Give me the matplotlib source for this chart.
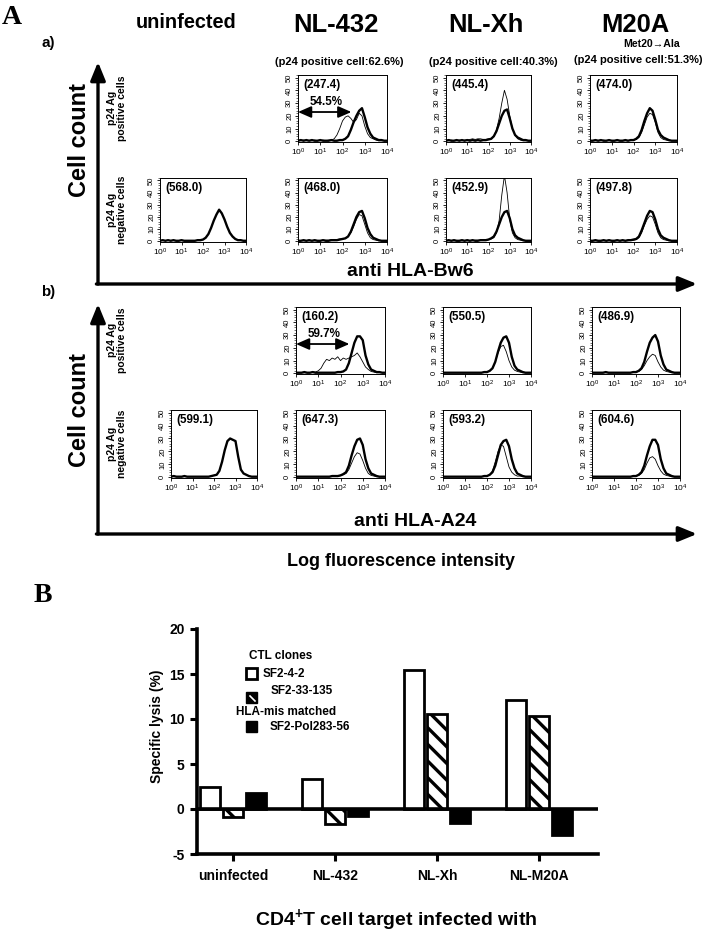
import numpy as np
import matplotlib
matplotlib.use("Agg")
import matplotlib.pyplot as plt
from matplotlib import font_manager as fm
from matplotlib.patches import Rectangle
from matplotlib.ticker import LogLocator, MultipleLocator, NullFormatter

plt.rcParams['font.family'] = ['Liberation Sans', 'DejaVu Sans']
plt.rcParams['mathtext.fontset'] = 'custom'
plt.rcParams['mathtext.rm'] = 'Liberation Sans'
plt.rcParams['mathtext.bf'] = 'Liberation Sans:bold'
plt.rcParams['mathtext.it'] = 'Liberation Sans:italic'
plt.rcParams['hatch.linewidth'] = 2.4

names = {f.name for f in fm.fontManager.ttflist}
if 'Liberation Sans Narrow' in names:
    NARROW, NS = 'Liberation Sans Narrow', 1.0
else:
    NARROW, NS = 'Liberation Sans', 0.84

# ---- FACS histograms: cell count per 1/8 decade, log10 bin positions ----
decades = np.arange(0, 4.001, 0.125)

bw6_pos_nl432_thick = [0.5,1,0.5,1,0.5,1,0.5,0.5,1,0.5,0.5,0.5,1,0.5,0.5,1,1,2,4,9,15,20,24,26,19,11,6,3,2,1,1,0.5,0.5]
bw6_pos_nl432_thin = [0.5,0.5,1,0.5,0.5,0.5,1,0.5,0.5,1,0.5,1,1,2,5,10,16,19,20,18,15,17,22,20,12,6,3,2,1,0.5,0.5,0.5,0.5]
bw6_pos_nlxh_thick = [0.5,1,0.5,0.5,1,0.5,1,0.5,1,0.5,1,0.5,1,0.5,1,1,1.5,2,4,8,14,20,24,25,18,10,5,3,2,1,1,0.5,0.5]
bw6_pos_nlxh_thin = [0.5,0.5,1,0.5,0.5,1,0.5,1,1,1.5,2,1.5,2,2,1.5,1.5,2,2,4,9,18,30,40,33,20,10,5,2,1,0.5,0.5,0.5,0.5]
bw6_pos_m20a_thick = [0.5,0.5,1,0.5,1,0.5,0.5,1,0.5,0.5,1,0.5,0.5,1,0.5,1,1,2,4,9,16,22,26,24,17,9,5,3,2,1,0.5,0.5,0.5]
bw6_pos_m20a_thin = [0.5,0.5,0.5,0.5,0.5,1,0.5,0.5,0.5,0.5,0.5,0.5,0.5,0.5,0.5,1,1,1.5,3,7,13,19,22,21,15,7,3,1.5,1,0.5,0.5,0.5,0.5]

bw6_neg_uninf_thick = [0.5,1,0.5,1,0.5,1,0.5,0.5,1,0.5,0.5,0.5,0.5,0.5,1,1,1.5,3,6,11,17,22,26,23,18,12,7,4,2,1,1,0.5,0.5]
bw6_neg_nl432_thick = [0.5,0.5,1,0.5,1,0.5,1,0.5,0.5,1,0.5,0.5,1,1,1,1.5,2,2.5,4,8,14,20,24,25,19,11,6,3,2,1,0.5,0.5,0.5]
bw6_neg_nl432_thin = [0.5,0.5,0.5,0.5,0.5,0.5,0.5,0.5,0.5,1,1,1,1.5,1.5,1.5,2,2,2.5,4,7,12,18,22,21,14,7,3,1.5,1,0.5,0.5,0.5,0.5]
bw6_neg_nlxh_thick = [0.5,1,0.5,1,0.5,0.5,1,0.5,1,0.5,1,0.5,0.5,1,1,1,1.5,2.5,4,8,14,20,24,25,19,10,5,3,2,1,0.5,0.5,0.5]
bw6_neg_nlxh_thin = [0.5,0.5,0.5,0.5,0.5,0.5,0.5,0.5,0.5,0.5,0.5,1,1,1,1,1.5,1.5,2,3,7,17,38,54,40,18,7,3,1.5,1,0.5,0.5,0.5,0.5]
bw6_neg_m20a_thick = [0.5,0.5,1,0.5,0.5,1,0.5,1,0.5,0.5,1,0.5,1,0.5,1,1,1.5,2,4,9,15,21,25,24,18,10,5,3,2,1,0.5,0.5,0.5]
bw6_neg_m20a_thin = [0.5,0.5,0.5,0.5,0.5,0.5,0.5,0.5,0.5,0.5,0.5,0.5,0.5,0.5,0.5,1,1,1.5,3,7,13,18,21,20,14,7,3,1.5,1,0.5,0.5,0.5,0.5]

a24_pos_nl432_thick = [0.5,0.5,0.5,1,0.5,0.5,1,0.5,0.5,0.5,0.5,0.5,0.5,0.5,0.5,1,1,1.5,3,8,16,24,29,29,26,14,7,3,2,1,1,0.5,0.5]
a24_pos_nl432_thin = [0.5,0.5,0.5,0.5,0.5,0.5,1,1,2,4,8,11,10,12,11,13,10,12,11,12,13,14,16,13,9,5,3,1.5,1,0.5,0.5,0.5,0.5]
a24_pos_nlxh_thick = [0.5,0.5,0.5,0.5,0.5,0.5,0.5,0.5,0.5,0.5,0.5,0.5,0.5,0.5,0.5,1,1,2,4,9,17,24,28,29,24,13,6,3,2,1,0.5,0.5,0.5]
a24_pos_nlxh_thin = [0.5,0.5,0.5,0.5,0.5,0.5,0.5,0.5,0.5,0.5,0.5,0.5,0.5,0.5,0.5,1,1,2,4,9,16,21,22,17,10,5,2.5,1.5,1,0.5,0.5,0.5,0.5]
a24_pos_m20a_thick = [0.5,0.5,0.5,0.5,0.5,1,0.5,0.5,0.5,0.5,0.5,0.5,0.5,0.5,0.5,1,1,2,4,9,17,24,28,30,25,14,7,3,2,1,0.5,0.5,0.5]
a24_pos_m20a_thin = [0.5,0.5,0.5,0.5,0.5,0.5,0.5,0.5,0.5,0.5,0.5,0.5,0.5,0.5,0.5,1,1,1.5,3,6,10,13,15,14,9,5,2.5,1.5,1,0.5,0.5,0.5,0.5]

a24_neg_uninf_thick = [0.5,1,0.5,0.5,0.5,1,0.5,0.5,0.5,0.5,0.5,0.5,0.5,0.5,0.5,1,1.5,2,5,12,21,28,30,29,28,16,6,3,2,1,0.5,0.5,0.5]
a24_neg_nl432_thick = [0.5,0.5,0.5,0.5,0.5,0.5,0.5,0.5,0.5,0.5,0.5,0.5,0.5,1,1,1,1.5,2.5,4,9,17,24,29,30,25,14,7,3,2,1,0.5,0.5,0.5]
a24_neg_nl432_thin = [0.5,0.5,0.5,0.5,0.5,0.5,0.5,0.5,0.5,0.5,0.5,0.5,0.5,1,1,1,1.5,2,3,6,11,16,19,18,13,7,3,1.5,1,0.5,0.5,0.5,0.5]
a24_neg_nlxh_thick = [0.5,0.5,0.5,0.5,0.5,0.5,0.5,0.5,0.5,0.5,0.5,0.5,0.5,0.5,0.5,1,1,2,4,9,17,25,28,29,24,14,7,3,2,1,0.5,0.5,0.5]
a24_neg_nlxh_thin = [0.5,0.5,0.5,0.5,0.5,0.5,0.5,0.5,0.5,0.5,0.5,0.5,0.5,0.5,0.5,1,1,2,5,12,20,25,24,16,8,4,2,1,1,0.5,0.5,0.5,0.5]
a24_neg_m20a_thick = [0.5,0.5,0.5,0.5,0.5,0.5,0.5,0.5,0.5,0.5,0.5,0.5,0.5,0.5,0.5,1,1,2,4,9,17,24,29,29,25,14,7,3,2,1,0.5,0.5,0.5]
a24_neg_m20a_thin = [0.5,0.5,0.5,0.5,0.5,0.5,0.5,0.5,0.5,0.5,0.5,0.5,0.5,0.5,0.5,1,1,1.5,3,6,11,15,16,14,9,5,2.5,1.5,1,0.5,0.5,0.5,0.5]

col_titles = ['uninfected', 'NL-432', 'NL-Xh', 'M20A']
p24_positive = ['(p24 positive cell:62.6%)', '(p24 positive cell:40.3%)', '(p24 positive cell:51.3%)']
bw6_pos_means = ['(247.4)', '(445.4)', '(474.0)']
bw6_neg_means = ['(568.0)', '(468.0)', '(452.9)', '(497.8)']
a24_pos_means = ['(160.2)', '(550.5)', '(486.9)']
a24_neg_means = ['(599.1)', '(647.3)', '(593.2)', '(604.6)']

# ---- panel B: specific lysis (%) ----
targets = ['uninfected', 'NL-432', 'NL-Xh', 'NL-M20A']
lysis_sf2_4_2 = [2.5, 3.3, 15.4, 12.1]
lysis_sf2_33_135 = [-0.9, -1.7, 10.6, 10.3]
lysis_sf2_pol283_56 = [1.8, -0.8, -1.6, -2.9]

W, H = 706, 935
fig = plt.figure(figsize=(W / 100, H / 100), dpi=100)

bg = fig.add_axes([0, 0, 1, 1])
bg.set_xlim(0, W)
bg.set_ylim(H, 0)
bg.axis('off')


def add_ax(x0, x1, y0, y1):
    return fig.add_axes([x0 / W, 1 - y1 / H, (x1 - x0) / W, (y1 - y0) / H])


def hist_panel(xb, yb, thick, thin, mean_txt, pct=None):
    ax = add_ax(xb[0], xb[1], yb[0], yb[1])
    xs = 10 ** decades
    if thin is not None:
        ax.plot(xs, thin, color='k', lw=0.6)
    ax.plot(xs, thick, color='k', lw=1.7)
    ax.set_xscale('log')
    ax.set_xlim(1, 1e4)
    ax.set_ylim(-0.5, 52)
    ax.set_xticks([1, 10, 100, 1000, 10000])
    ax.set_xticklabels([r'$10^{%d}$' % k for k in range(5)], fontsize=6)
    ax.xaxis.set_minor_locator(LogLocator(base=10, subs=np.arange(2, 10)))
    ax.xaxis.set_minor_formatter(NullFormatter())
    ax.set_yticks([0, 10, 20, 30, 40, 50])
    ax.set_yticklabels(['0', '10', '20', '30', '40', '50'], fontsize=5.5, rotation=90, va='center')
    ax.yaxis.set_minor_locator(MultipleLocator(2))
    ax.tick_params(which='major', length=2.5, width=0.6, pad=1)
    ax.tick_params(which='minor', length=1.3, width=0.4)
    for s in ax.spines.values():
        s.set_linewidth(0.7)
    ax.text(0.06, 0.85, mean_txt, transform=ax.transAxes, fontsize=10 * NS,
            fontweight='bold', family=NARROW, va='center')
    if pct is not None:
        ax.annotate('', xy=(1.0, 23), xytext=(10 ** 2.4, 23), annotation_clip=False,
                    arrowprops=dict(arrowstyle='<|-|>,head_length=0.8,head_width=0.35',
                                    lw=1.3, color='k', shrinkA=0, shrinkB=0, mutation_scale=10))
        ax.text(10 ** 1.25, 31, pct, fontsize=10 * NS, fontweight='bold', family=NARROW,
                ha='center', va='center')
    return ax


a_cols = [(160, 246), (298, 387), (446, 531), (590, 677)]
b_cols = [(171, 257), (296, 385), (443, 531), (592, 680)]
rows = {'a1': (75, 142), 'a2': (178, 242), 'b1': (307, 374), 'b2': (410, 478)}

hist_panel(a_cols[1], rows['a1'], bw6_pos_nl432_thick, bw6_pos_nl432_thin, bw6_pos_means[0], '54.5%')
hist_panel(a_cols[2], rows['a1'], bw6_pos_nlxh_thick, bw6_pos_nlxh_thin, bw6_pos_means[1])
hist_panel(a_cols[3], rows['a1'], bw6_pos_m20a_thick, bw6_pos_m20a_thin, bw6_pos_means[2])
hist_panel(a_cols[0], rows['a2'], bw6_neg_uninf_thick, None, bw6_neg_means[0])
hist_panel(a_cols[1], rows['a2'], bw6_neg_nl432_thick, bw6_neg_nl432_thin, bw6_neg_means[1])
hist_panel(a_cols[2], rows['a2'], bw6_neg_nlxh_thick, bw6_neg_nlxh_thin, bw6_neg_means[2])
hist_panel(a_cols[3], rows['a2'], bw6_neg_m20a_thick, bw6_neg_m20a_thin, bw6_neg_means[3])

hist_panel(b_cols[1], rows['b1'], a24_pos_nl432_thick, a24_pos_nl432_thin, a24_pos_means[0], '59.7%')
hist_panel(b_cols[2], rows['b1'], a24_pos_nlxh_thick, a24_pos_nlxh_thin, a24_pos_means[1])
hist_panel(b_cols[3], rows['b1'], a24_pos_m20a_thick, a24_pos_m20a_thin, a24_pos_means[2])
hist_panel(b_cols[0], rows['b2'], a24_neg_uninf_thick, None, a24_neg_means[0])
hist_panel(b_cols[1], rows['b2'], a24_neg_nl432_thick, a24_neg_nl432_thin, a24_neg_means[1])
hist_panel(b_cols[2], rows['b2'], a24_neg_nlxh_thick, a24_neg_nlxh_thin, a24_neg_means[2])
hist_panel(b_cols[3], rows['b2'], a24_neg_m20a_thick, a24_neg_m20a_thin, a24_neg_means[3])

# ---- panel A labels and big axis arrows ----
bg.text(12, 17, 'A', family='Liberation Serif', fontsize=20, fontweight='bold', ha='center', va='center')
bg.text(186, 22, col_titles[0], family=NARROW, fontsize=17 * NS, fontweight='bold', ha='center', va='center')
for cx, t in zip([336, 486, 635], col_titles[1:]):
    bg.text(cx, 25, t, family=NARROW, fontsize=22 * NS, fontweight='bold', ha='center', va='center')
bg.text(652, 44, 'Met20\u2192Ala', family=[NARROW, 'DejaVu Sans'], fontsize=9 * NS,
        fontweight='bold', ha='center', va='center')
for cx, cy, t in zip([339, 493, 638], [62, 62, 60], p24_positive):
    bg.text(cx, cy, t, family=NARROW, fontsize=9.5 * NS, fontweight='bold', ha='center', va='center')

bg.text(48, 43, 'a)', family=NARROW, fontsize=13 * NS, fontweight='bold', ha='center', va='center')
bg.text(48, 292, 'b)', family=NARROW, fontsize=13 * NS, fontweight='bold', ha='center', va='center')

arrow_kw = dict(arrowstyle='-|>,head_length=1.1,head_width=0.45', lw=2.4, color='k',
                shrinkA=0, shrinkB=0, mutation_scale=10)
for ytop, ybase in [(62, 284), (304, 534)]:
    bg.annotate('', xy=(98, ytop), xytext=(98, ybase), arrowprops=arrow_kw)
    bg.annotate('', xy=(697, ybase), xytext=(96.4, ybase), arrowprops=arrow_kw)

bg.text(80, 140, 'Cell count', fontsize=17, fontweight='bold', rotation=90, ha='center', va='center')
bg.text(80, 410, 'Cell count', fontsize=17, fontweight='bold', rotation=90, ha='center', va='center')
for yc, t in [(108, 'p24 Ag\npositive cells'), (210, 'p24 Ag\nnegative cells'),
              (340, 'p24 Ag\npositive cells'), (444, 'p24 Ag\nnegative cells')]:
    bg.text(117, yc, t, fontsize=7.5, fontweight='bold', rotation=90, ha='center', va='center',
            multialignment='center', linespacing=1.0)

bg.text(410, 272, 'anti HLA-Bw6', fontsize=14, fontweight='bold', ha='center', va='center')
bg.text(415, 521, 'anti HLA-A24', fontsize=14, fontweight='bold', ha='center', va='center')
bg.text(401, 562, 'Log fluorescence intensity', fontsize=13, fontweight='bold', ha='center', va='center')

# ---- panel B bar chart ----
bg.text(43, 596, 'B', family='Liberation Serif', fontsize=20, fontweight='bold', ha='center', va='center')

axb = add_ax(197, 598, 629, 854)
x = np.arange(len(targets))
bw = 0.2
axb.bar(x - 0.225, lysis_sf2_4_2, bw, facecolor='white', edgecolor='k', lw=2.0, zorder=3)
axb.bar(x, lysis_sf2_33_135, bw, facecolor='white', edgecolor='k', hatch='\\\\', lw=2.0, zorder=3)
axb.bar(x + 0.225, lysis_sf2_pol283_56, bw, facecolor='k', edgecolor='k', lw=2.0, zorder=3)
axb.axhline(0, color='k', lw=2.6, zorder=4)
axb.set_xlim(-0.353, 3.58)
axb.set_ylim(-5, 20)
axb.set_yticks([20, 15, 10, 5, 0, -5])
axb.set_yticklabels(['20', '15', '10', '5', '0', '-5'], fontsize=10, fontweight='bold')
axb.set_xticks(x)
axb.set_xticklabels(targets, fontsize=10, fontweight='bold')
axb.tick_params(axis='y', length=5, width=2.2, pad=4)
axb.tick_params(axis='x', length=5, width=2.2, pad=6)
for side in ['top', 'right']:
    axb.spines[side].set_visible(False)
for side in ['left', 'bottom']:
    axb.spines[side].set_linewidth(2.6)
axb.patch.set_alpha(0)

bg.text(157, 726, 'Specific lysis (%)', fontsize=10, fontweight='bold', rotation=90, ha='center', va='center')
bg.text(396, 920, r'CD4$^{\mathbf{+}}$T cell target infected with', fontsize=14, fontweight='bold',
        ha='center', va='center')

# legend
bg.text(249, 656, 'CTL clones', fontsize=8.5, fontweight='bold', va='center')
bg.add_patch(Rectangle((246, 668), 11, 11, facecolor='white', edgecolor='k', lw=2.0))
bg.text(263, 674, 'SF2-4-2', fontsize=8.5, fontweight='bold', va='center')
bg.add_patch(Rectangle((246, 692), 11, 11, facecolor='k', edgecolor='k', lw=1.0))
bg.plot([250, 255], [696, 701], color='white', lw=1.2)
bg.text(271, 691, 'SF2-33-135', fontsize=8.5, fontweight='bold', va='center')
bg.text(236, 712, 'HLA-mis matched', fontsize=8.5, fontweight='bold', va='center')
bg.add_patch(Rectangle((246, 721), 11, 11, facecolor='k', edgecolor='k', lw=1.0))
bg.text(270, 727, 'SF2-Pol283-56', fontsize=8.5, fontweight='bold', va='center')

fig.savefig('out.png', dpi=100, facecolor='white')
